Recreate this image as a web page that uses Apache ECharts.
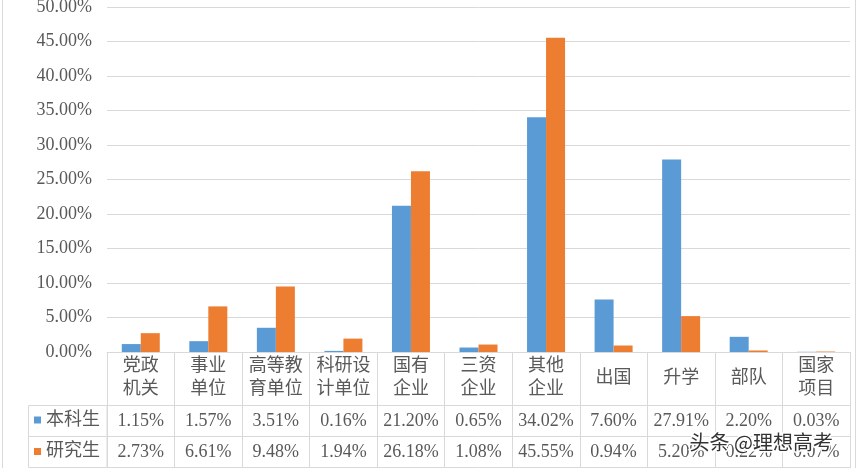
<!DOCTYPE html>
<html><head><meta charset="utf-8">
<script src="https://cdn.jsdelivr.net/npm/echarts@6/dist/echarts.min.js"></script>
<style>html,body{margin:0;padding:0;background:#fff}#c{width:857px;height:468px}</style>
</head><body><div id="c"></div>
<script>
// ---- data ----
const categories = ['党政\n机关','事业\n单位','高等教\n育单位','科研设\n计单位','国有\n企业','三资\n企业','其他\n企业','出国','升学','部队','国家\n项目'];
const seriesNames = ['本科生','研究生'];
const undergrad = [1.15,1.57,3.51,0.16,21.20,0.65,34.02,7.60,27.91,2.20,0.03];
const graduate  = [2.73,6.61,9.48,1.94,26.18,1.08,45.55,0.94,5.20,0.22,0.07];
const yMin = 0, yMax = 50, yStep = 5;
const watermark = '头条 @理想高考';

// ---- style ----
const FONT = "'Liberation Serif','Noto Sans CJK SC'";
const FS = 18;
const TXT = '#595959';
const LINE = '#d9d9d9';
const COLORS = ['#5B9BD5', '#ED7D31'];
const G = {left:107, right:7, top:7, bottom:116};
const pct = v => v.toFixed(2) + '%';

const chart = echarts.init(document.getElementById('c'), null, {renderer:'canvas'});

function rowAxis(offset, values, margin) {
  return {
    type:'category', data:categories, gridIndex:0, position:'bottom', offset:offset,
    axisLine:{show:true, lineStyle:{color:LINE, width:1}},
    axisTick:{show:false},
    splitLine:{show:false},
    axisLabel:{show: !!values, interval:0, margin:margin, verticalAlign:'middle',
      fontFamily:FONT, fontSize:FS, color:TXT,
      formatter:(v, i) => values ? pct(values[i]) : ''}
  };
}

chart.setOption({
  animation:false,
  color:COLORS,
  textStyle:{fontFamily:FONT},
  grid:{left:G.left, right:G.right, top:G.top, bottom:G.bottom, containLabel:false, outerBoundsMode:'none'},
  legend:{
    data:seriesNames, orient:'vertical', left:34, top:410, padding:0,
    itemWidth:7, itemHeight:7, itemGap:11.5, icon:'rect', selectedMode:false,
    textStyle:{fontFamily:FONT, fontSize:FS, color:TXT, lineHeight:20}
  },
  xAxis:[
    {
      type:'category', data:categories, gridIndex:0, position:'bottom',
      axisLine:{show:true, lineStyle:{color:LINE, width:1}},
      axisTick:{show:true, length:116, alignWithLabel:false, lineStyle:{color:LINE, width:1}},
      splitLine:{show:false},
      axisLabel:{interval:0, margin:26, verticalAlign:'middle', lineHeight:23,
        fontFamily:FONT, fontSize:FS, color:TXT}
    },
    rowAxis(53, undergrad, 16),
    rowAxis(84, graduate, 16),
    rowAxis(115, null, 0)
  ],
  yAxis:{
    type:'value', min:yMin, max:yMax, interval:yStep,
    axisLine:{show:false}, axisTick:{show:false},
    splitLine:{lineStyle:{color:LINE, width:1}},
    axisLabel:{margin:15, fontFamily:FONT, fontSize:FS, color:TXT, formatter:v => pct(v)}
  },
  series:[
    {name:seriesNames[0], type:'bar', xAxisIndex:0, data:undergrad, barWidth:19, barGap:'0%'},
    {name:seriesNames[1], type:'bar', xAxisIndex:0, data:graduate, barWidth:19, barGap:'0%'}
  ],
  graphic:[
    {type:'rect', shape:{x:28.5, y:405.5, width:78.5, height:62}, style:{fill:null, stroke:LINE, lineWidth:1}, silent:true},
    {type:'line', shape:{x1:28.5, y1:436.5, x2:107, y2:436.5}, style:{stroke:LINE, lineWidth:1}, silent:true},
    {type:'line', shape:{x1:2.5, y1:0, x2:2.5, y2:468}, style:{stroke:LINE, lineWidth:1}, silent:true},
    {type:'line', shape:{x1:855.5, y1:0, x2:855.5, y2:468}, style:{stroke:LINE, lineWidth:1}, silent:true},
    {type:'text', left:688, top:431, z:100, silent:true,
      style:{text:watermark, fontFamily:"'Noto Sans CJK SC'", fontSize:20, fill:'#333', stroke:'#fff', lineWidth:3}}
  ]
});
</script>
</body></html>
